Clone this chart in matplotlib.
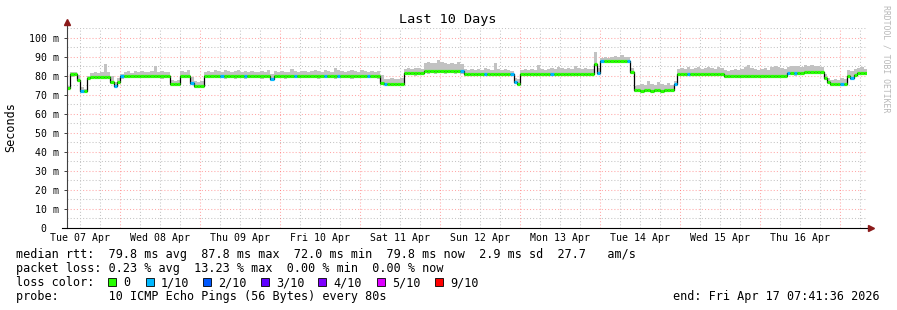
import numpy as np
import matplotlib.pyplot as plt
from matplotlib.patches import Rectangle

plt.rcParams['font.family'] = 'DejaVu Sans Mono'

W, H = 897, 310

# x axis in hours since Tue 07 Apr 00:00, one sample per hour
start_hour = 8.1
day_labels = ['Tue 07 Apr', 'Wed 08 Apr', 'Thu 09 Apr', 'Fri 10 Apr', 'Sat 11 Apr',
              'Sun 12 Apr', 'Mon 13 Apr', 'Tue 14 Apr', 'Wed 15 Apr', 'Thu 16 Apr']

# median rtt (ms), one row per 24 hours
median = [
    73.5, 80.8, 80.8, 78.0, 72.0, 72.0, 79.0, 79.5, 79.5, 79.5, 79.5, 79.5, 79.5, 77.0, 74.5, 77.0, 79.8, 80.0, 80.0, 80.0, 80.0, 80.0, 80.0, 80.0,
    80.0, 79.8, 80.0, 80.0, 80.2, 80.0, 80.0, 75.8, 75.8, 75.8, 80.0, 80.0, 80.0, 76.5, 74.5, 74.5, 74.5, 80.0, 79.8, 80.0, 80.0, 80.0, 79.8, 80.0,
    80.0, 80.0, 79.8, 80.0, 80.0, 79.8, 80.0, 80.0, 80.0, 80.0, 79.8, 80.0, 80.0, 78.5, 80.0, 80.0, 80.0, 79.8, 80.0, 80.0, 80.0, 80.0, 80.0, 80.0,
    80.0, 79.8, 80.0, 80.0, 80.0, 79.8, 80.0, 80.0, 80.0, 80.0, 80.0, 79.8, 80.0, 80.0, 80.0, 80.0, 79.8, 80.0, 80.0, 80.0, 80.0, 80.0, 76.2, 76.0,
    76.0, 76.0, 76.0, 76.0, 76.0, 81.3, 81.3, 81.3, 81.3, 81.3, 81.3, 82.5, 82.5, 82.5, 82.5, 82.5, 82.5, 82.5, 82.5, 82.5, 82.5, 82.5, 82.5, 81.0,
    81.0, 81.0, 81.0, 81.0, 81.0, 81.0, 81.0, 81.0, 81.0, 81.0, 81.0, 81.0, 81.0, 81.0, 77.0, 76.0, 81.0, 81.0, 81.0, 81.0, 81.0, 81.0, 81.0, 81.0,
    81.0, 81.0, 81.0, 81.0, 81.0, 81.0, 81.0, 81.0, 81.0, 81.0, 81.0, 81.0, 81.0, 81.0, 86.5, 81.5, 88.0, 87.8, 88.0, 87.8, 88.0, 87.8, 88.0, 87.8,
    87.8, 82.0, 72.5, 72.5, 72.3, 72.5, 72.5, 72.3, 72.5, 72.5, 72.3, 72.5, 72.5, 72.5, 76.0, 81.0, 81.0, 81.0, 81.0, 81.0, 81.0, 81.0, 81.0, 81.0,
    81.0, 81.0, 81.0, 81.0, 81.0, 80.0, 80.0, 80.0, 80.0, 80.0, 80.0, 80.0, 80.0, 80.0, 80.0, 80.0, 80.0, 80.0, 80.0, 80.0, 80.0, 80.0, 80.0, 80.0,
    81.3, 81.3, 81.3, 81.3, 81.3, 82.0, 82.0, 82.0, 82.0, 82.0, 82.0, 78.8, 77.0, 75.6, 75.6, 75.6, 75.6, 75.6, 80.0, 79.0, 80.5, 81.3, 81.3, 81.3,
]

# upper edge of the smoke
smoke_hi = [
    74.5, 82.3, 82.0, 80.5, 74.0, 73.0, 80.0, 81.5, 82.0, 81.5, 82.0, 86.5, 82.0, 80.0, 77.0, 79.0, 81.0, 82.0, 82.5, 81.5, 82.5, 82.0, 82.5, 82.0,
    82.0, 82.5, 85.5, 82.0, 82.5, 82.0, 82.0, 77.8, 77.5, 78.0, 82.5, 82.0, 83.0, 79.5, 77.5, 77.0, 77.5, 82.0, 82.5, 82.0, 83.0, 82.5, 82.0, 83.0,
    82.5, 82.0, 82.5, 83.0, 82.0, 82.5, 82.0, 82.5, 82.0, 82.0, 82.5, 82.0, 83.0, 81.0, 82.5, 82.0, 82.5, 82.0, 82.0, 83.5, 82.5, 82.0, 82.5, 82.5,
    82.0, 82.5, 83.0, 82.5, 82.0, 83.0, 82.5, 82.0, 84.0, 83.0, 82.5, 82.0, 82.5, 83.0, 82.5, 82.0, 83.0, 82.5, 82.0, 82.5, 82.0, 82.5, 80.5, 78.5,
    78.5, 79.0, 78.5, 78.5, 79.0, 83.5, 84.0, 83.5, 84.0, 84.0, 83.5, 87.0, 87.5, 87.0, 87.0, 88.5, 87.5, 87.0, 86.5, 87.0, 86.5, 87.5, 86.5, 83.5,
    83.0, 83.5, 83.0, 83.5, 83.0, 84.0, 83.5, 83.0, 87.0, 83.5, 83.0, 83.5, 83.0, 82.5, 79.0, 78.5, 83.0, 83.5, 83.0, 83.5, 83.0, 86.0, 83.5, 83.0,
    83.5, 84.0, 83.5, 84.5, 84.0, 83.5, 84.0, 83.5, 85.5, 84.0, 83.5, 84.0, 83.5, 83.5, 92.5, 84.0, 89.5, 90.0, 89.5, 90.0, 90.5, 90.0, 91.0, 90.0,
    90.0, 84.0, 74.5, 75.5, 76.0, 75.5, 77.5, 76.0, 75.5, 77.0, 76.0, 75.5, 76.5, 75.5, 77.5, 83.5, 84.0, 83.5, 84.5, 83.5, 84.0, 84.5, 83.5, 84.0,
    84.5, 84.0, 83.5, 84.5, 84.0, 83.0, 82.5, 83.0, 83.5, 83.0, 83.5, 84.5, 86.0, 84.0, 83.5, 83.0, 83.5, 84.0, 83.0, 84.5, 85.0, 84.5, 84.0, 83.5,
    84.5, 85.0, 85.5, 85.0, 84.5, 86.0, 85.5, 86.0, 85.5, 85.0, 84.5, 81.0, 79.0, 78.0, 78.5, 78.0, 79.0, 78.5, 83.0, 82.5, 83.5, 84.0, 84.5, 83.5,
]

# lower edge of the smoke
smoke_lo = [
    72.5, 79.5, 79.8, 77.0, 71.2, 71.0, 78.0, 78.5, 78.8, 78.5, 78.8, 78.5, 78.8, 76.0, 73.8, 76.0, 78.5, 79.0, 79.0, 78.8, 79.0, 78.8, 79.0, 78.8,
    79.0, 78.8, 79.0, 79.0, 78.5, 79.0, 78.8, 75.0, 75.0, 75.2, 79.0, 78.8, 79.0, 75.5, 73.8, 73.5, 74.0, 79.0, 78.8, 79.0, 79.2, 78.8, 79.0, 78.5,
    79.0, 78.8, 78.5, 79.0, 79.0, 78.5, 79.0, 78.8, 79.0, 79.0, 78.5, 79.0, 78.8, 77.5, 79.0, 78.8, 79.0, 78.5, 79.0, 78.8, 79.0, 79.0, 78.8, 79.0,
    78.8, 79.0, 79.0, 78.5, 79.0, 78.8, 79.0, 79.0, 78.5, 79.0, 78.8, 79.0, 79.0, 78.5, 79.0, 78.8, 79.0, 79.0, 78.8, 79.0, 79.0, 78.5, 75.5, 75.0,
    75.0, 75.2, 75.0, 75.0, 75.2, 80.5, 80.3, 80.5, 80.2, 80.5, 80.3, 81.5, 81.2, 81.5, 81.0, 81.3, 81.5, 81.0, 81.3, 81.5, 81.0, 81.3, 81.0, 80.0,
    80.0, 80.2, 80.0, 79.8, 80.2, 80.0, 80.2, 80.0, 79.8, 80.0, 80.2, 80.0, 79.8, 80.0, 76.0, 75.2, 80.0, 80.2, 80.0, 79.8, 80.2, 80.0, 80.2, 80.0,
    80.2, 80.0, 79.8, 80.2, 80.0, 80.2, 80.0, 79.8, 80.2, 80.0, 80.2, 80.0, 80.0, 79.8, 85.5, 80.5, 87.0, 86.8, 87.0, 86.8, 87.0, 86.8, 87.0, 86.8,
    87.0, 81.0, 71.8, 71.5, 71.8, 71.5, 71.8, 71.5, 71.8, 71.5, 71.8, 71.5, 71.8, 71.5, 75.0, 80.0, 80.2, 80.0, 80.2, 80.0, 79.8, 80.2, 80.0, 80.2,
    80.0, 80.2, 80.0, 80.2, 80.0, 79.0, 79.0, 78.8, 79.2, 79.0, 78.8, 79.2, 79.0, 78.8, 79.0, 79.2, 79.0, 78.8, 79.2, 79.0, 78.8, 79.0, 79.2, 79.0,
    80.3, 80.5, 80.2, 80.5, 80.3, 81.0, 81.2, 81.0, 81.2, 81.0, 81.2, 77.8, 76.0, 74.8, 75.0, 74.8, 75.0, 74.8, 79.0, 78.0, 79.5, 80.3, 80.5, 80.3,
]

# hours where 1 of 10 pings was lost
loss_1_hours = [4, 14, 16, 37, 46, 53, 61, 68, 77, 81, 90, 95, 118, 125, 133, 134,
                145, 159, 160, 168, 182, 186, 216, 218, 232, 235]

loss_labels = ['0', '1/10', '2/10', '3/10', '4/10', '5/10', '9/10']
loss_colors = ['#26ff00', '#00b8ff', '#0059ff', '#5e00ff', '#7e00ff', '#dd00ff', '#ff0000']


def px(x, y):
    return x / W, 1 - y / H


fig = plt.figure(figsize=(W / 100, H / 100), dpi=100)
ax = fig.add_axes([67 / W, 82 / H, 800 / W, 200.5 / H])

n = len(median)
t = start_hour + np.arange(n + 1)
med = np.array(median)
hi = np.array(smoke_hi)
lo = np.array(smoke_lo)

ax.set_xlim(start_hour, start_hour + n)
ax.set_ylim(0, 105.5)

# grid
for v in range(5, 106, 5):
    if v % 10 == 0:
        ax.axhline(v, color='#ff6060', alpha=0.55, lw=0.75, ls=(0, (1, 2)), zorder=0.5)
    else:
        ax.axhline(v, color='#c4c4c4', lw=0.75, ls=(0, (1, 2)), zorder=0.5)
for h in range(12, 250, 6):
    if h % 24 == 0:
        ax.axvline(h, color='#ff6060', alpha=0.55, lw=0.75, ls=(0, (1, 2)), zorder=0.5)
    else:
        ax.axvline(h, color='#c4c4c4', lw=0.75, ls=(0, (1, 2)), zorder=0.5)

# smoke
ax.fill_between(t, np.append(lo, lo[-1]), np.append(hi, hi[-1]), step='post',
                color='#c2c2c2', lw=0, zorder=1)

# median: black step line, coloured by loss on top
ax.step(t, np.append(med, med[-1]), where='post', color='black', lw=0.9, zorder=2)
cols = [loss_colors[1] if i in loss_1_hours else loss_colors[0] for i in range(n)]
ax.hlines(med, t[:-1], t[1:], colors=cols, lw=2.3, capstyle='butt', zorder=3)

# axes with arrows
for s in ax.spines.values():
    s.set_visible(False)
ax.plot([start_hour, start_hour], [0, 107.5], color='#404040', lw=0.8, clip_on=False, zorder=4)
ax.plot([start_hour - 1.5, start_hour + n + 1.5], [0, 0], color='black', lw=0.8, clip_on=False, zorder=4)
ax.plot([start_hour], [108.5], marker='^', ms=4, color='#8b1a1a', clip_on=False, zorder=5)
ax.plot([start_hour + n + 1.2], [0], marker='>', ms=4, color='#8b1a1a', clip_on=False, zorder=5)

ax.set_yticks(range(0, 101, 10))
ax.set_yticklabels(['0  '] + ['%d m' % v for v in range(10, 101, 10)])
ax.tick_params(axis='y', length=2, width=0.7, color='#404040', pad=3.5, labelsize=7.1)
ax.set_xticks([12 + 24 * k for k in range(len(day_labels))])
ax.set_xticklabels(day_labels)
ax.tick_params(axis='x', length=0, pad=3.5, labelsize=7.1)

# titles and texts
fig.text(*px(448, 23), 'Last 10 Days', ha='center', va='baseline', fontsize=9.7)
fig.text(*px(11, 127), 'Seconds', rotation=90, ha='center', va='center', fontsize=8.5)
fig.text(*px(886, 5), 'RRDTOOL / TOBI OETIKER', rotation=270, ha='center', va='top',
         fontsize=5.9, color='#b8b8b8')

fs = 8.5
fig.text(*px(16, 258), 'median rtt:  79.8 ms avg  87.8 ms max  72.0 ms min  79.8 ms now  2.9 ms sd  27.7   am/s',
         va='baseline', fontsize=fs)
fig.text(*px(16, 272), 'packet loss: 0.23 % avg  13.23 % max  0.00 % min  0.00 % now',
         va='baseline', fontsize=fs)
fig.text(*px(16, 286), 'loss color:', va='baseline', fontsize=fs)
sw_x = [108, 146, 203, 261, 318, 377, 435]
for x, lab, c in zip(sw_x, loss_labels, loss_colors):
    fig.add_artist(Rectangle(px(x, 286), 8 / W, 8 / H, transform=fig.transFigure,
                             facecolor=c, edgecolor='black', lw=0.6))
    fig.text(*px(x + 15, 286), lab, va='baseline', fontsize=fs)
fig.text(*px(16, 300), 'probe:       10 ICMP Echo Pings (56 Bytes) every 80s', va='baseline', fontsize=fs)
fig.text(*px(880, 300), 'end: Fri Apr 17 07:41:36 2026', ha='right', va='baseline', fontsize=fs)

plt.savefig('out.png', dpi=100, facecolor='white')
